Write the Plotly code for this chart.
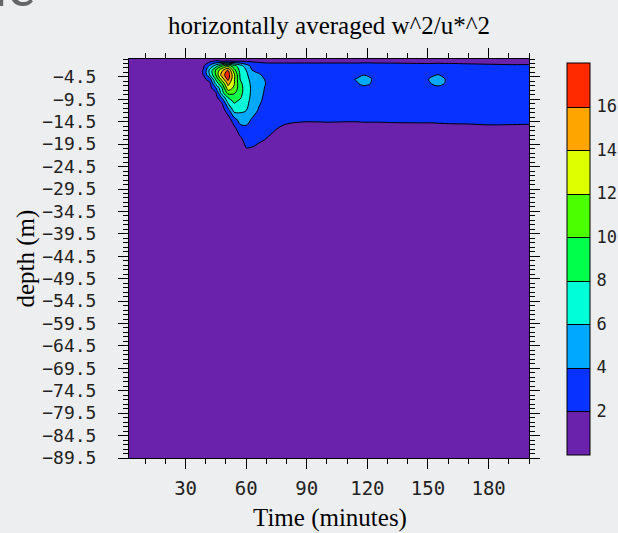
import numpy as np
import plotly.graph_objects as go

# ---- data ----
times = [2, 36, 39, 42, 45, 48, 51, 54, 57, 60, 63, 66, 69, 72, 76, 80, 90, 100,
         110, 115, 118, 121, 124, 135, 147, 152, 155, 158, 161, 170, 180, 190, 200]
depths = [-0.5, -1, -2, -3, -4, -5, -6, -7, -8, -9, -10, -12, -14, -16, -18, -20,
          -22, -25, -89.5]

# one profile (values at each depth above) per time
profiles = [
    [0.3, 0.4, 0.5, 0.6, 0.6, 0.6, 0.6, 0.5, 0.5, 0.5, 0.5, 0.4, 0.4, 0.3, 0.3, 0.3, 0.3, 0.3, 0.2],   # 2
    [0.4, 0.6, 0.9, 1.1, 1.1, 1.0, 0.9, 0.8, 0.7, 0.6, 0.5, 0.4, 0.4, 0.3, 0.3, 0.3, 0.3, 0.3, 0.2],   # 36
    [0.5, 1.0, 1.8, 2.2, 2.1, 1.5, 1.1, 0.9, 0.7, 0.6, 0.5, 0.4, 0.4, 0.3, 0.3, 0.3, 0.3, 0.3, 0.2],   # 39
    [0.8, 1.6, 4.3, 6.5, 6.2, 3.0, 1.5, 1.2, 1.0, 0.8, 0.7, 0.5, 0.4, 0.3, 0.3, 0.3, 0.3, 0.3, 0.2],   # 42
    [1.2, 2.3, 6.8, 10.3, 10.2, 8.4, 6.5, 3.8, 1.9, 1.4, 1.1, 0.7, 0.5, 0.4, 0.3, 0.3, 0.3, 0.3, 0.2],  # 45
    [1.3, 2.0, 9.6, 13.5, 15.0, 12.8, 10.0, 7.8, 7.2, 4.4, 2.2, 1.0, 0.7, 0.5, 0.4, 0.4, 0.3, 0.3, 0.2],  # 48
    [1.4, 2.1, 11.0, 16.2, 17.2, 16.6, 14.6, 13.2, 10.8, 8.2, 6.6, 3.0, 1.0, 0.6, 0.5, 0.4, 0.3, 0.3, 0.2],  # 51
    [1.4, 2.0, 8.8, 10.8, 12.5, 12.4, 12.2, 11.6, 10.4, 9.0, 8.3, 6.6, 3.2, 1.4, 0.8, 0.5, 0.4, 0.3, 0.2],  # 54
    [1.3, 2.0, 6.8, 7.4, 7.8, 8.0, 8.5, 8.8, 8.7, 8.3, 7.6, 6.4, 4.8, 3.3, 1.8, 0.9, 0.5, 0.3, 0.2],   # 57
    [1.2, 1.9, 4.9, 6.0, 6.4, 6.7, 6.9, 7.0, 6.9, 6.8, 6.6, 6.0, 4.7, 3.6, 2.8, 2.15, 1.3, 0.5, 0.2],  # 60
    [1.1, 1.8, 3.3, 4.0, 4.8, 5.2, 5.5, 5.6, 5.6, 5.5, 5.3, 4.8, 3.8, 3.0, 2.5, 2.05, 1.2, 0.5, 0.2],  # 63
    [1.0, 1.7, 2.9, 3.6, 4.2, 4.6, 4.8, 4.8, 4.7, 4.5, 4.3, 3.9, 3.2, 2.8, 2.3, 1.85, 1.0, 0.5, 0.2],  # 66
    [1.0, 1.6, 2.7, 3.3, 3.7, 4.0, 4.1, 4.0, 3.9, 3.8, 3.7, 3.4, 2.9, 2.5, 2.15, 1.6, 0.9, 0.5, 0.2],  # 69
    [1.0, 1.6, 2.6, 3.2, 3.5, 3.6, 3.6, 3.6, 3.5, 3.4, 3.3, 3.1, 2.75, 2.35, 1.85, 1.2, 0.8, 0.5, 0.2],  # 72
    [1.0, 1.6, 2.6, 3.1, 3.3, 3.4, 3.4, 3.4, 3.3, 3.2, 3.1, 2.9, 2.5, 1.95, 1.3, 0.9, 0.7, 0.5, 0.2],  # 76
    [1.0, 1.6, 2.6, 3.1, 3.3, 3.4, 3.4, 3.3, 3.3, 3.2, 3.1, 2.8, 2.4, 1.6, 1.0, 0.7, 0.6, 0.4, 0.2],   # 80
    [1.0, 1.6, 2.6, 3.1, 3.3, 3.4, 3.4, 3.3, 3.2, 3.1, 3.0, 2.8, 2.2, 1.4, 0.9, 0.7, 0.5, 0.4, 0.2],   # 90
    [1.0, 1.6, 2.6, 3.1, 3.3, 3.4, 3.4, 3.3, 3.2, 3.1, 3.0, 2.8, 2.25, 1.4, 0.9, 0.7, 0.5, 0.4, 0.2],  # 100
    [1.0, 1.6, 2.6, 3.1, 3.4, 3.5, 3.4, 3.3, 3.2, 3.1, 3.0, 2.8, 2.2, 1.4, 0.9, 0.7, 0.5, 0.4, 0.2],   # 110
    [1.0, 1.6, 2.6, 3.2, 3.5, 4.15, 3.9, 3.4, 3.2, 3.1, 3.0, 2.8, 2.2, 1.4, 0.9, 0.7, 0.5, 0.4, 0.2],  # 115
    [1.0, 1.6, 2.7, 3.4, 3.95, 4.5, 4.3, 3.6, 3.3, 3.1, 3.0, 2.8, 2.25, 1.4, 0.9, 0.7, 0.5, 0.4, 0.2], # 118
    [1.0, 1.6, 2.7, 3.3, 3.7, 4.3, 4.1, 3.5, 3.2, 3.1, 3.0, 2.8, 2.25, 1.4, 0.9, 0.7, 0.5, 0.4, 0.2],  # 121
    [1.0, 1.6, 2.6, 3.1, 3.3, 3.5, 3.4, 3.3, 3.2, 3.1, 3.0, 2.8, 2.25, 1.4, 0.9, 0.7, 0.5, 0.4, 0.2],  # 124
    [1.0, 1.55, 2.6, 3.1, 3.3, 3.4, 3.4, 3.3, 3.2, 3.1, 3.0, 2.8, 2.3, 1.45, 0.9, 0.7, 0.5, 0.4, 0.2], # 135
    [1.0, 1.5, 2.5, 3.1, 3.3, 3.5, 3.4, 3.3, 3.2, 3.1, 3.0, 2.8, 2.3, 1.5, 0.9, 0.7, 0.5, 0.4, 0.2],   # 147
    [1.0, 1.5, 2.5, 3.2, 3.8, 4.25, 4.05, 3.5, 3.2, 3.1, 3.0, 2.8, 2.3, 1.5, 0.9, 0.7, 0.5, 0.4, 0.2], # 152
    [1.0, 1.5, 2.6, 3.4, 4.0, 4.5, 4.3, 3.7, 3.3, 3.1, 3.0, 2.8, 2.35, 1.5, 0.9, 0.7, 0.5, 0.4, 0.2],  # 155
    [1.0, 1.5, 2.5, 3.2, 3.7, 4.1, 4.0, 3.5, 3.2, 3.1, 3.0, 2.8, 2.35, 1.55, 0.9, 0.7, 0.5, 0.4, 0.2], # 158
    [1.0, 1.5, 2.5, 3.1, 3.3, 3.5, 3.4, 3.3, 3.2, 3.1, 3.0, 2.8, 2.4, 1.55, 0.9, 0.7, 0.5, 0.4, 0.2],  # 161
    [1.0, 1.45, 2.4, 3.0, 3.3, 3.4, 3.4, 3.3, 3.2, 3.1, 3.0, 2.8, 2.4, 1.6, 0.9, 0.7, 0.5, 0.4, 0.2],  # 170
    [1.0, 1.4, 2.3, 3.0, 3.3, 3.4, 3.4, 3.3, 3.2, 3.1, 3.0, 2.8, 2.45, 1.7, 1.0, 0.7, 0.5, 0.4, 0.2],  # 180
    [1.0, 1.4, 2.2, 2.9, 3.2, 3.3, 3.3, 3.3, 3.2, 3.1, 3.0, 2.8, 2.4, 1.7, 1.0, 0.7, 0.5, 0.4, 0.2],   # 190
    [1.0, 1.4, 2.2, 2.9, 3.2, 3.3, 3.3, 3.3, 3.2, 3.1, 3.0, 2.8, 2.4, 1.65, 1.0, 0.7, 0.5, 0.4, 0.2],  # 200
]

level_colors = ["#6A21AB", "#0832FF", "#00A8FF", "#00FFD9", "#00FF4A",
                "#4CFF00", "#DDFF00", "#FFA500", "#FF2A00"]
colorbar_ticks = [2, 4, 6, 8, 10, 12, 14, 16]
x_ticks = [30, 60, 90, 120, 150, 180]
y_ticks = [-4.5, -9.5, -14.5, -19.5, -24.5, -29.5, -34.5, -39.5, -44.5, -49.5,
           -54.5, -59.5, -64.5, -69.5, -74.5, -79.5, -84.5, -89.5]

z = np.array(profiles).T

n = len(level_colors)
# colorscale for the filled contour (band colours sampled at band centres)
fill_scale = [[i / (n - 1), c] for i, c in enumerate(level_colors)]
# stepwise colorscale for the colour bar (0..18 in equal bands)
step_scale = []
for i, c in enumerate(level_colors):
    step_scale.append([i / n, c])
    step_scale.append([(i + 1) / n, c])

BG = "#EDEEF0"
mono = "DejaVu Sans Mono"
serif = "Liberation Serif"

fig = go.Figure()
fig.add_trace(go.Contour(
    x=times, y=depths, z=z,
    autocontour=False,
    contours=dict(start=2, end=16, size=2, coloring="fill", showlines=True),
    line=dict(color="black", width=1, smoothing=1.0),
    colorscale=fill_scale,
    showscale=False,
    hoverinfo="skip",
))

# colour-bar carrier (its data lie outside the visible axis ranges)
fig.add_trace(go.Contour(
    x=[1000, 1001], y=[-500, -499], z=[[0, 18], [0, 18]],
    autocontour=False,
    contours=dict(start=2, end=16, size=2, coloring="heatmap", showlines=True),
    line=dict(color="black", width=1),
    colorscale=step_scale, zmin=0, zmax=18,
    showscale=True,
    colorbar=dict(
        x=1.094, xanchor="left", y=0.5, yanchor="middle",
        len=0.983, lenmode="fraction", thickness=23, thicknessmode="pixels",
        outlinewidth=1, outlinecolor="black", xpad=0, ypad=0,
        tickvals=colorbar_ticks, ticks="outside", ticklen=3,
        tickcolor="rgba(0,0,0,0)",
        tickfont=dict(family=mono, size=17, color="#222"),
    ),
    hoverinfo="skip",
))

axis_common = dict(
    showline=True, linecolor="black", linewidth=1, mirror="allticks",
    ticks="outside", ticklen=10, tickwidth=1, tickcolor="black",
    showgrid=False, zeroline=False,
)

fig.update_xaxes(
    range=[2, 200], tickvals=x_ticks,
    tickfont=dict(family=mono, size=19, color="#222"),
    ticklabelstandoff=3,
    minor=dict(ticks="outside", ticklen=5, tickwidth=1, tickcolor="black",
               dtick=10, tick0=0, showgrid=False),
    **axis_common,
)
fig.update_yaxes(
    range=[-89.5, -0.5], tickvals=y_ticks,
    tickfont=dict(family=mono, size=18, color="#222"),
    ticklabelstandoff=18,
    minor=dict(ticks="outside", ticklen=5, tickwidth=1, tickcolor="black",
               dtick=1, tick0=-0.5, showgrid=False),
    **axis_common,
)

fig.update_layout(
    width=618, height=533,
    margin=dict(l=129, r=89, t=59, b=75, pad=0, autoexpand=False),
    paper_bgcolor=BG, plot_bgcolor=BG,
    showlegend=False,
    annotations=[
        dict(text="horizontally averaged w^2/u*^2", x=0.5, y=1.085,
             xref="paper", yref="paper", showarrow=False, xanchor="center",
             yanchor="middle", font=dict(family=serif, size=25, color="black")),
        dict(text="Time (minutes)", x=0.502, y=-0.151,
             xref="paper", yref="paper", showarrow=False, xanchor="center",
             yanchor="middle", font=dict(family=serif, size=25, color="black")),
        dict(text="depth (m)", x=-0.26, y=0.5, textangle=-90,
             xref="paper", yref="paper", showarrow=False, xanchor="center",
             yanchor="middle", font=dict(family=serif, size=25, color="black")),
        dict(text="ic", x=-0.2325, y=1.0966, xref="paper", yref="paper",
             showarrow=False, xanchor="right", yanchor="bottom",
             font=dict(family="Lato", size=56, color="#666666")),
    ],
)

fig.write_html("out.html")
